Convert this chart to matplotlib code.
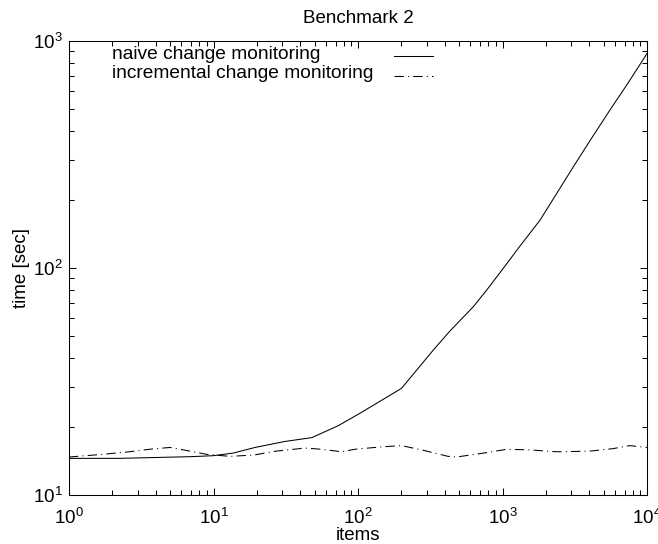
import matplotlib
matplotlib.use("Agg")
import matplotlib.pyplot as plt
from matplotlib.lines import Line2D
from matplotlib.ticker import LogLocator, NullFormatter, FixedLocator

plt.rcParams['font.family'] = ['Liberation Sans', 'DejaVu Sans']
plt.rcParams['mathtext.default'] = 'regular'

# naive change monitoring
naive_x = [1, 2.2, 6.9, 10, 13.7, 19.4, 31, 48, 73, 103, 200, 332, 433, 628, 778, 1013, 1322, 1820,
           2372, 3090, 4033, 5546, 7240, 10000]
naive_y = [14.5, 14.5, 14.75, 14.9, 15.3, 16.2, 17.2, 17.9, 20.2, 22.9, 29.5, 43.5, 52.8, 67.5, 80, 99.7,
           125, 162.6, 213, 279, 364, 497, 640, 880]

# incremental change monitoring
incr_x = [1, 1.7, 2.6, 3.6, 5, 6.2, 9, 13, 19, 27, 43, 56, 77, 95, 146, 200, 276, 420, 480, 740, 1070,
          1550, 2370, 4000, 5800, 7600, 10000]
incr_y = [14.7, 15.1, 15.5, 15.9, 16.2, 15.8, 15.1, 14.8, 15.0, 15.6, 16.1, 15.9, 15.5, 15.9, 16.3, 16.5,
          15.8, 14.8, 14.7, 15.3, 15.9, 15.8, 15.5, 15.6, 16.0, 16.5, 16.2]

labels = ["naive change monitoring", "incremental change monitoring"]
title = "Benchmark 2"
xlabel = "items"
ylabel = "time [sec]"
x_ticks = [1, 10, 100, 1000, 10000]
x_ticklabels = ["$10^{0}$", "$10^{1}$", "$10^{2}$", "$10^{3}$", "$10^{4}$"]
y_ticks = [10, 100, 1000]
y_ticklabels = ["$10^{1}$", "$10^{2}$", "$10^{3}$"]

FS = 13.5
DASHDOT = (0, (9, 4, 1, 4))

fig = plt.figure(figsize=(6.58, 5.44), dpi=100)
ax = fig.add_axes([69/658, 49/544, 578/658, 454/544])

ax.plot(naive_x, naive_y, color='black', lw=0.75)
ax.plot(incr_x, incr_y, color='black', lw=0.75, linestyle=DASHDOT)

ax.set_xscale('log')
ax.set_yscale('log')
ax.set_xlim(1, 10000)
ax.set_ylim(10, 1000)

ax.xaxis.set_major_locator(FixedLocator(x_ticks))
ax.set_xticklabels(x_ticklabels)
ax.yaxis.set_major_locator(FixedLocator(y_ticks))
ax.set_yticklabels(y_ticklabels)
ax.xaxis.set_minor_locator(LogLocator(base=10, subs=range(2, 10)))
ax.yaxis.set_minor_locator(LogLocator(base=10, subs=range(2, 10)))
ax.xaxis.set_minor_formatter(NullFormatter())
ax.yaxis.set_minor_formatter(NullFormatter())

ax.tick_params(which='both', direction='in', top=True, right=True, width=0.75, colors='black')
ax.tick_params(which='major', length=5, labelsize=FS)
ax.tick_params(which='minor', length=3.6)
ax.tick_params(axis='x', which='major', pad=9.5)
ax.tick_params(axis='y', which='major', pad=4.3)

for sp in ax.spines.values():
    sp.set_linewidth(0.75)
    sp.set_color('black')

ax.set_title(title, fontsize=FS, pad=13)
ax.set_xlabel(xlabel, fontsize=FS)
ax.xaxis.set_label_coords(0.5, -0.071)
ax.set_ylabel(ylabel, fontsize=FS)
ax.yaxis.set_label_coords(-0.068, 0.5)

# key (gnuplot style: text left, sample right)
key_text_x = 0.0744
key_text_y = [0.9593, 0.9185]
key_line_x = [0.5623, 0.6298]
key_line_y = [0.967, 0.9236]
styles = ['-', DASHDOT]
for lab, ty, ly, ls in zip(labels, key_text_y, key_line_y, styles):
    ax.text(key_text_x, ty, lab, transform=ax.transAxes, fontsize=13.8, ha='left', va='baseline')
    ax.add_line(Line2D(key_line_x, [ly, ly], transform=ax.transAxes, color='black', lw=0.75,
                       linestyle=ls))

fig.savefig("out.png", dpi=100)
